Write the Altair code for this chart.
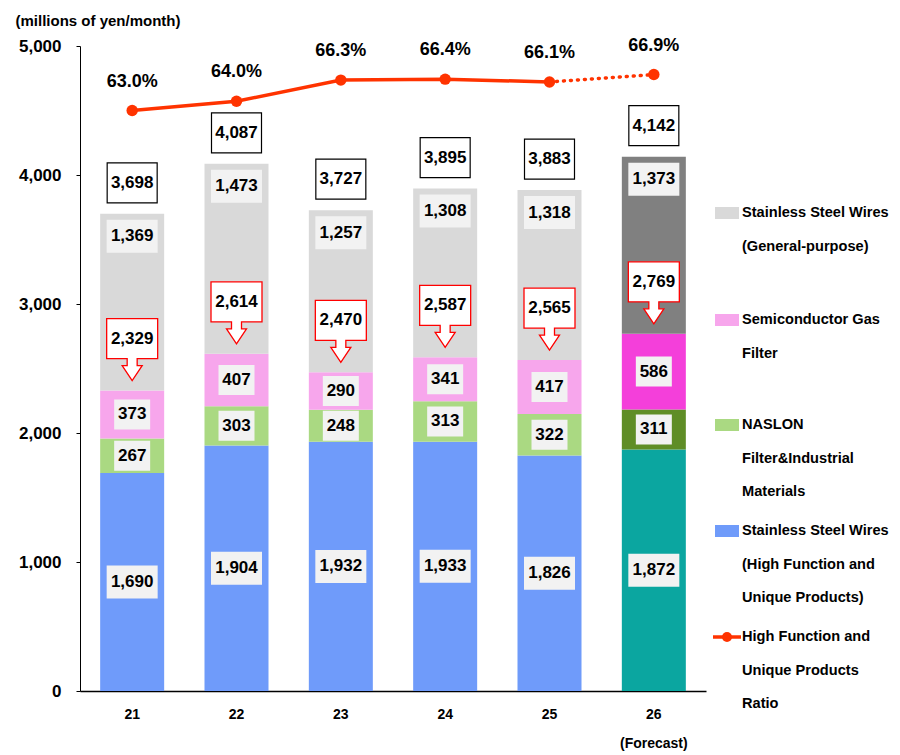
import altair as alt
import pandas as pd

# ---------------- data ----------------
years = ["21", "22", "23", "24", "25", "26"]
high_function = [1690, 1904, 1932, 1933, 1826, 1872]
naslon = [267, 303, 248, 313, 322, 311]
semiconductor = [373, 407, 290, 341, 417, 586]
general = [1369, 1473, 1257, 1308, 1318, 1373]
totals = [3698, 4087, 3727, 3895, 3883, 4142]
subtotals = [2329, 2614, 2470, 2587, 2565, 2769]
ratios = [63.0, 64.0, 66.3, 66.4, 66.1, 66.9]
y_ticks = [0, 1000, 2000, 3000, 4000, 5000]
forecast_year = "26"
forecast_note = "(Forecast)"
unit_title = "(millions of yen/month)"

segment_keys = ["hf", "naslon", "semi", "gen"]
segment_values = {"hf": high_function, "naslon": naslon, "semi": semiconductor, "gen": general}
legend_items = [
    ("gen", ["Stainless Steel Wires", "(General-purpose)"]),
    ("semi", ["Semiconductor Gas", "Filter"]),
    ("naslon", ["NASLON", "Filter&Industrial", "Materials"]),
    ("hf", ["Stainless Steel Wires", "(High Function and", "Unique Products)"]),
    ("ratio", ["High Function and", "Unique Products", "Ratio"]),
]

# ---------------- styles ----------------
FONT = "Liberation Sans"
colors = {
    "hf": "#6F9BFA", "naslon": "#AAD982", "semi": "#F7A6EC", "gen": "#D9D9D9",
    "hf_f": "#0BA6A0", "naslon_f": "#5F8D26", "semi_f": "#F43FDA", "gen_f": "#808080",
}
LINE_RED = "#FF3300"
NUM_SIZE = 17

rows = []
for i, yr in enumerate(years):
    cum = 0
    for k in segment_keys:
        v = segment_values[k][i]
        rows.append({
            "year": yr, "seg": k, "value": v, "start": cum, "end": cum + v,
            "mid": cum + v / 2,
            "ckey": k + ("_f" if yr == forecast_year else ""),
        })
        cum += v
seg_df = pd.DataFrame(rows)
tot_df = pd.DataFrame({"year": years, "total": totals, "subtotal": subtotals})
ratio_df = pd.DataFrame({"year": years, "ratio": ratios})

xscale = alt.Scale(domain=years, paddingInner=0, paddingOuter=0)
xaxis = alt.Axis(
    title=None, labelAngle=0, ticks=False, domainColor="black", domainWidth=1.5,
    labelFont=FONT, labelFontSize=14, labelFontWeight="bold", labelColor="black",
    labelPadding=16, labelLineHeight=29,
    labelExpr=f"datum.value == '{forecast_year}' ? ['{forecast_year}', '{forecast_note}'] : datum.label",
)
yscale = alt.Scale(domain=[0, 5000], nice=False)
yaxis = alt.Axis(
    values=y_ticks, format=",d", grid=False, domainColor="black", tickColor="black",
    tickSize=4, labelFont=FONT, labelFontSize=17, labelFontWeight="bold",
    labelColor="black", labelPadding=15,
    title=unit_title, titleAngle=0, titleAlign="left", titleBaseline="middle",
    titleX=-65, titleY=-26, titleFont=FONT, titleFontSize=15,
    titleFontWeight="bold", titleColor="black",
)

def X():
    return alt.X("year:N", scale=xscale, axis=xaxis, sort=years)

def Y(field):
    return alt.Y(field, scale=yscale, axis=yaxis)

bars = alt.Chart(seg_df).mark_bar(width=64).encode(
    x=X(), y=Y("start:Q"), y2="end:Q",
    color=alt.Color("ckey:N", scale=alt.Scale(domain=list(colors.keys()), range=list(colors.values())), legend=None),
)

BOX_FILL = "#F2F2F2"
wide_box = "M-25.5,-16.5H25.5V16.5H-25.5Z"
narrow_box = "M-18,-15H18V15H-18Z"
top_box = "M-25.5,6H25.5V39H-25.5Z"
total_box = "M-25,-51H25V-11H-25Z"
callout = "M-25.5,-72H25.5V-32H5V-25H10L0,-10L-10,-25H-5V-32H-25.5Z"

inner = seg_df[seg_df.seg != "gen"]
inner_wide = alt.Chart(inner).transform_filter("datum.value >= 1000").mark_point(
    shape=wide_box, size=4, filled=True, fill=BOX_FILL, strokeWidth=0, opacity=1
).encode(x=X(), y=Y("mid:Q"))
inner_narrow = alt.Chart(inner).transform_filter("datum.value < 1000").mark_point(
    shape=narrow_box, size=4, filled=True, fill=BOX_FILL, strokeWidth=0, opacity=1
).encode(x=X(), y=Y("mid:Q"))
inner_text = alt.Chart(inner).mark_text(
    font=FONT, fontSize=NUM_SIZE, fontWeight="bold", color="black", baseline="middle"
).encode(x=X(), y=Y("mid:Q"), text=alt.Text("value:Q", format=","))

gen = seg_df[seg_df.seg == "gen"]
gen_box = alt.Chart(gen).mark_point(
    shape=top_box, size=4, filled=True, fill=BOX_FILL, strokeWidth=0, opacity=1
).encode(x=X(), y=Y("end:Q"))
gen_text = alt.Chart(gen).mark_text(
    font=FONT, fontSize=NUM_SIZE, fontWeight="bold", color="black", baseline="middle", dy=22.5
).encode(x=X(), y=Y("end:Q"), text=alt.Text("value:Q", format=","))

tot_box = alt.Chart(tot_df).mark_point(
    shape=total_box, size=4, filled=True, fill="white", stroke="black", strokeWidth=1.2, opacity=1
).encode(x=X(), y=Y("total:Q"))
tot_text = alt.Chart(tot_df).mark_text(
    font=FONT, fontSize=NUM_SIZE, fontWeight="bold", color="black", baseline="middle", dy=-31
).encode(x=X(), y=Y("total:Q"), text=alt.Text("total:Q", format=","))

sub_box = alt.Chart(tot_df).mark_point(
    shape=callout, size=4, filled=True, fill="white", stroke="#FF0000", strokeWidth=1.3, opacity=1
).encode(x=X(), y=Y("subtotal:Q"))
sub_text = alt.Chart(tot_df).mark_text(
    font=FONT, fontSize=NUM_SIZE, fontWeight="bold", color="black", baseline="middle", dy=-52
).encode(x=X(), y=Y("subtotal:Q"), text=alt.Text("subtotal:Q", format=","))

# ---------------- legend (manual) ----------------
dummy = alt.Data(values=[{}])
legend_first_line = [167, 274, 379, 485, 591]
legend_layers = []
for (key, lines), ly in zip(legend_items, legend_first_line):
    if key == "ratio":
        legend_layers.append(alt.Chart(dummy).mark_rule(color=LINE_RED, strokeWidth=3.5).encode(
            x=alt.value(633), x2=alt.value(661), y=alt.value(ly)))
        legend_layers.append(alt.Chart(dummy).mark_point(filled=True, size=100, color=LINE_RED, opacity=1).encode(
            x=alt.value(647), y=alt.value(ly)))
    else:
        legend_layers.append(alt.Chart(dummy).mark_rect(color=colors[key]).encode(
            x=alt.value(635), x2=alt.value(659), y=alt.value(ly - 6), y2=alt.value(ly + 6)))
    legend_layers.append(alt.Chart(dummy).mark_text(
        text=lines, align="left", baseline="middle", font=FONT, fontSize=14.6,
        fontWeight="bold", color="black", lineHeight=33.5
    ).encode(x=alt.value(662), y=alt.value(ly)))

main = alt.layer(bars, inner_wide, inner_narrow, inner_text, gen_box, gen_text,
                 tot_box, tot_text, sub_box, sub_text, *legend_layers)

# ---------------- ratio line ----------------
ry = alt.Y("ratio:Q", scale=alt.Scale(domain=[0, 70], nice=False), axis=None)
line_solid = alt.Chart(ratio_df).transform_filter(
    f"datum.year != '{forecast_year}'"
).mark_line(color=LINE_RED, strokeWidth=3.5).encode(x=X(), y=ry)
line_dot = alt.Chart(ratio_df).transform_filter(
    alt.FieldOneOfPredicate(field="year", oneOf=years[-2:])
).mark_line(color=LINE_RED, strokeWidth=3.5, strokeDash=[1, 6], strokeCap="round").encode(x=X(), y=ry)
ratio_pts = alt.Chart(ratio_df).mark_point(filled=True, size=130, color=LINE_RED, opacity=1).encode(x=X(), y=ry)
ratio_txt = alt.Chart(ratio_df).transform_calculate(
    lab="format(datum.ratio, '.1f') + '%'"
).mark_text(font=FONT, fontSize=18, fontWeight="bold", color="black", baseline="middle", dy=-29).encode(
    x=X(), y=ry, text="lab:N")
ratio_layer = alt.layer(line_solid, line_dot, ratio_pts, ratio_txt)

chart = alt.layer(main, ratio_layer).resolve_scale(y="independent").properties(
    width=626, height=645,
    autosize=alt.AutoSizeParams(type="none"),
    padding={"left": 72, "top": 38, "right": 185, "bottom": 60},
).configure_view(stroke=None)

chart.save("out.html", embed_options={"renderer": "svg", "actions": False})
